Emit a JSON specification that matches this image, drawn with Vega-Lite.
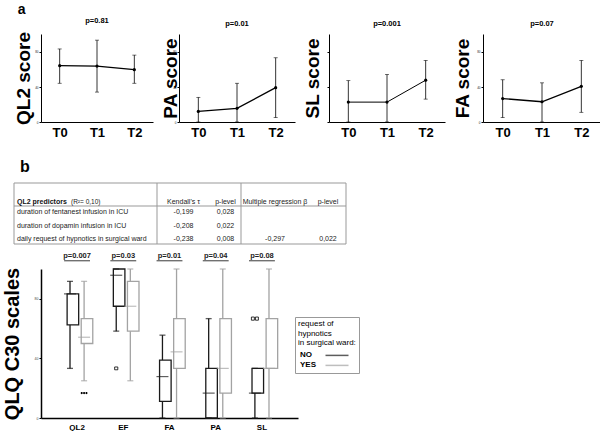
{
  "$schema": "https://vega.github.io/schema/vega-lite/v6.json",
  "padding": {"left": 2, "top": 3, "right": 2, "bottom": 0},
  "background": "white",
  "config": {
    "font": "Liberation Sans",
    "view": {"stroke": null},
    "axis": {"grid": false, "domainColor": "#000", "tickColor": "#000", "labelColor": "#222", "titleColor": "#000"},
    "title": {"color": "#000"}
  },
  "datasets": {
    "trend": [
      {"scale": "QL2", "time": "T0", "mean": 64, "lo": 44, "hi": 83},
      {"scale": "QL2", "time": "T1", "mean": 63.5, "lo": 34, "hi": 93},
      {"scale": "QL2", "time": "T2", "mean": 59.5, "lo": 44, "hi": 76},
      {"scale": "PA", "time": "T0", "mean": 12, "lo": 0, "hi": 28},
      {"scale": "PA", "time": "T1", "mean": 15.5, "lo": 0, "hi": 44},
      {"scale": "PA", "time": "T2", "mean": 39, "lo": 5, "hi": 73},
      {"scale": "SL", "time": "T0", "mean": 22.6, "lo": 0, "hi": 47},
      {"scale": "SL", "time": "T1", "mean": 22.6, "lo": 0, "hi": 54},
      {"scale": "SL", "time": "T2", "mean": 47.5, "lo": 26, "hi": 70},
      {"scale": "FA", "time": "T0", "mean": 26.6, "lo": 5, "hi": 48},
      {"scale": "FA", "time": "T1", "mean": 23, "lo": 0, "hi": 44.5},
      {"scale": "FA", "time": "T2", "mean": 40.5, "lo": 11, "hi": 70}
    ],
    "box": [
      {"scale": "QL2", "group": "NO", "lower": 33.3, "q1": 62.5, "median": 83.3, "q3": 83.3, "upper": 91.7},
      {"scale": "QL2", "group": "YES", "lower": 25, "q1": 50, "median": 54.2, "q3": 66.7, "upper": 91.7},
      {"scale": "EF", "group": "NO", "lower": 58.3, "q1": 75, "median": 95.8, "q3": 100, "upper": 100},
      {"scale": "EF", "group": "YES", "lower": 25, "q1": 58.3, "median": 75, "q3": 91.7, "upper": 100},
      {"scale": "FA", "group": "NO", "lower": 0, "q1": 11.1, "median": 27.8, "q3": 38.9, "upper": 55.6},
      {"scale": "FA", "group": "YES", "lower": 0, "q1": 33.3, "median": 44.4, "q3": 66.7, "upper": 100},
      {"scale": "PA", "group": "NO", "lower": 0, "q1": 0, "median": 16.7, "q3": 33.3, "upper": 66.7},
      {"scale": "PA", "group": "YES", "lower": 0, "q1": 16.7, "median": 33.3, "q3": 66.7, "upper": 100},
      {"scale": "SL", "group": "NO", "lower": 0, "q1": 16.7, "median": 16.7, "q3": 33.3, "upper": 33.3},
      {"scale": "SL", "group": "YES", "lower": 0, "q1": 33.3, "median": 33.3, "q3": 66.7, "upper": 100}
    ],
    "outliers": [
      {"scale": "QL2", "group": "YES", "value": 16.7, "n": 3, "kind": "extreme"},
      {"scale": "EF", "group": "NO", "value": 33.3, "n": 1, "kind": "outlier"},
      {"scale": "SL", "group": "NO", "value": 66.7, "n": 2, "kind": "outlier"}
    ],
    "pvals": [
      {"scale": "QL2", "p": "p=0.007"},
      {"scale": "EF", "p": "p=0.03"},
      {"scale": "FA", "p": "p=0.01"},
      {"scale": "PA", "p": "p=0.04"},
      {"scale": "SL", "p": "p=0.08"}
    ],
    "tlines": [
      {"orient": "v", "pos": -0.5},
      {"orient": "v", "pos": 0.5},
      {"orient": "v", "pos": 2.5},
      {"orient": "v", "pos": 4.5},
      {"orient": "h", "pos": -1},
      {"orient": "h", "pos": 0.5},
      {"orient": "h", "pos": 3.5}
    ],
    "cells": [
      {"row": 0, "col": 0, "part": "label", "text": "QL2 predictors"},
      {"row": 0, "col": 0, "part": "note", "text": "(R²= 0,10)"},
      {"row": 0, "col": 1, "text": "Kendall's τ"},
      {"row": 0, "col": 2, "text": "p-level"},
      {"row": 0, "col": 3, "text": "Multiple regression β"},
      {"row": 0, "col": 4, "text": "p-level"},
      {"row": 1, "col": 0, "text": "duration of fentanest infusion in ICU"},
      {"row": 1, "col": 1, "text": "-0,199"},
      {"row": 1, "col": 2, "text": "0,028"},
      {"row": 2, "col": 0, "text": "duration of dopamin infusion in ICU"},
      {"row": 2, "col": 1, "text": "-0,208"},
      {"row": 2, "col": 2, "text": "0,022"},
      {"row": 3, "col": 0, "text": "daily request of hypnotics in surgical ward"},
      {"row": 3, "col": 1, "text": "-0,238"},
      {"row": 3, "col": 2, "text": "0,008"},
      {"row": 3, "col": 3, "text": "-0,297"},
      {"row": 3, "col": 4, "text": "0,022"}
    ]
  },
  "columns": 1,
  "align": "none",
  "spacing": 19,
  "resolve": {"legend": {"color": "independent"}},
  "concat": [
    {
      "title": {"text": "a", "anchor": "start", "fontSize": 14, "fontWeight": "bold", "offset": 0, "dx": 3},
      "spacing": 8,
      "hconcat": [
        {
          "width": 112, "height": 88,
          "title": {"text": "p=0.81", "fontSize": 7.5, "fontWeight": "bold", "offset": 7},
          "data": {"name": "trend"},
          "transform": [{"filter": "datum.scale === 'QL2'"}],
          "encoding": {"x": {"field": "time", "type": "ordinal", "scale": {"type": "point", "padding": 0.5}, "axis": {"title": null, "labelAngle": 0, "labelFontSize": 13, "labelFontWeight": "bold", "labelColor": "#000", "ticks": false, "labelPadding": 4}}},
          "layer": [
            {"mark": {"type": "rule", "color": "#000", "strokeWidth": 0.8},
             "encoding": {"y": {"field": "lo", "type": "quantitative", "title": "QL2 score", "scale": {"domain": [0, 100], "nice": false}, "axis": {"values": [0,10,20,30,40,50,60,70,80,90,100], "labelFontSize": 3, "tickSize": 2, "labelPadding": 1, "titleFontSize": 19, "titleFontWeight": "bold", "titlePadding": 1}}, "y2": {"field": "hi"}}},
            {"mark": {"type": "tick", "color": "#000", "size": 4, "thickness": 0.8}, "encoding": {"y": {"field": "lo", "type": "quantitative", "title": "QL2 score"}}},
            {"mark": {"type": "tick", "color": "#000", "size": 4, "thickness": 0.8}, "encoding": {"y": {"field": "hi", "type": "quantitative", "title": "QL2 score"}}},
            {"mark": {"type": "line", "color": "#000", "strokeWidth": 1.3}, "encoding": {"y": {"field": "mean", "type": "quantitative", "title": "QL2 score"}}},
            {"mark": {"type": "point", "filled": true, "color": "#000", "size": 10, "opacity": 1}, "encoding": {"y": {"field": "mean", "type": "quantitative", "title": "QL2 score"}}}
          ]
        },
        {
          "width": 116, "height": 88,
          "title": {"text": "p=0.01", "fontSize": 7.5, "fontWeight": "bold", "offset": 7},
          "data": {"name": "trend"},
          "transform": [{"filter": "datum.scale === 'PA'"}],
          "encoding": {"x": {"field": "time", "type": "ordinal", "scale": {"type": "point", "padding": 0.5}, "axis": {"title": null, "labelAngle": 0, "labelFontSize": 13, "labelFontWeight": "bold", "labelColor": "#000", "ticks": false, "labelPadding": 4}}},
          "layer": [
            {"mark": {"type": "rule", "color": "#000", "strokeWidth": 0.8},
             "encoding": {"y": {"field": "lo", "type": "quantitative", "title": "PA score", "scale": {"domain": [0, 100], "nice": false}, "axis": {"values": [0,10,20,30,40,50,60,70,80,90,100], "labelFontSize": 3, "tickSize": 2, "labelPadding": 1, "titleFontSize": 19, "titleFontWeight": "bold", "titlePadding": -8}}, "y2": {"field": "hi"}}},
            {"mark": {"type": "tick", "color": "#000", "size": 4, "thickness": 0.8}, "encoding": {"y": {"field": "lo", "type": "quantitative", "title": "PA score"}}},
            {"mark": {"type": "tick", "color": "#000", "size": 4, "thickness": 0.8}, "encoding": {"y": {"field": "hi", "type": "quantitative", "title": "PA score"}}},
            {"mark": {"type": "line", "color": "#000", "strokeWidth": 1.3}, "encoding": {"y": {"field": "mean", "type": "quantitative", "title": "PA score"}}},
            {"mark": {"type": "point", "filled": true, "color": "#000", "size": 10, "opacity": 1}, "encoding": {"y": {"field": "mean", "type": "quantitative", "title": "PA score"}}}
          ]
        },
        {
          "width": 116, "height": 88,
          "title": {"text": "p=0.001", "fontSize": 7.5, "fontWeight": "bold", "offset": 7},
          "data": {"name": "trend"},
          "transform": [{"filter": "datum.scale === 'SL'"}],
          "encoding": {"x": {"field": "time", "type": "ordinal", "scale": {"type": "point", "padding": 0.5}, "axis": {"title": null, "labelAngle": 0, "labelFontSize": 13, "labelFontWeight": "bold", "labelColor": "#000", "ticks": false, "labelPadding": 4}}},
          "layer": [
            {"mark": {"type": "rule", "color": "#000", "strokeWidth": 0.8},
             "encoding": {"y": {"field": "lo", "type": "quantitative", "title": "SL score", "scale": {"domain": [0, 100], "nice": false}, "axis": {"values": [0,10,20,30,40,50,60,70,80,90,100], "labels": false, "tickSize": 2, "titleFontSize": 19, "titleFontWeight": "bold", "titlePadding": 4}}, "y2": {"field": "hi"}}},
            {"mark": {"type": "tick", "color": "#000", "size": 4, "thickness": 0.8}, "encoding": {"y": {"field": "lo", "type": "quantitative", "title": "SL score"}}},
            {"mark": {"type": "tick", "color": "#000", "size": 4, "thickness": 0.8}, "encoding": {"y": {"field": "hi", "type": "quantitative", "title": "SL score"}}},
            {"mark": {"type": "line", "color": "#000", "strokeWidth": 1.0}, "encoding": {"y": {"field": "mean", "type": "quantitative", "title": "SL score"}}},
            {"mark": {"type": "point", "filled": true, "color": "#000", "size": 10, "opacity": 1}, "encoding": {"y": {"field": "mean", "type": "quantitative", "title": "SL score"}}}
          ]
        },
        {
          "width": 118, "height": 88,
          "title": {"text": "p=0.07", "fontSize": 7.5, "fontWeight": "bold", "offset": 7},
          "data": {"name": "trend"},
          "transform": [{"filter": "datum.scale === 'FA'"}],
          "encoding": {"x": {"field": "time", "type": "ordinal", "scale": {"type": "point", "padding": 0.5}, "axis": {"title": null, "labelAngle": 0, "labelFontSize": 13, "labelFontWeight": "bold", "labelColor": "#000", "ticks": false, "labelPadding": 4}}},
          "layer": [
            {"mark": {"type": "rule", "color": "#000", "strokeWidth": 0.8},
             "encoding": {"y": {"field": "lo", "type": "quantitative", "title": "FA score", "scale": {"domain": [0, 100], "nice": false}, "axis": {"values": [0,10,20,30,40,50,60,70,80,90,100], "labelFontSize": 3, "tickSize": 2, "labelPadding": 1, "titleFontSize": 19, "titleFontWeight": "bold", "titlePadding": 4}}, "y2": {"field": "hi"}}},
            {"mark": {"type": "tick", "color": "#000", "size": 4, "thickness": 0.8}, "encoding": {"y": {"field": "lo", "type": "quantitative", "title": "FA score"}}},
            {"mark": {"type": "tick", "color": "#000", "size": 4, "thickness": 0.8}, "encoding": {"y": {"field": "hi", "type": "quantitative", "title": "FA score"}}},
            {"mark": {"type": "line", "color": "#000", "strokeWidth": 1.3}, "encoding": {"y": {"field": "mean", "type": "quantitative", "title": "FA score"}}},
            {"mark": {"type": "point", "filled": true, "color": "#000", "size": 10, "opacity": 1}, "encoding": {"y": {"field": "mean", "type": "quantitative", "title": "FA score"}}}
          ]
        }
      ]
    },
    {
      "width": 257, "height": 149,
      "title": {"text": "b", "anchor": "start", "fontSize": 16, "fontWeight": "bold", "offset": 8, "dx": 18},
      "resolve": {"scale": {"x": "independent", "y": "independent"}},
      "layer": [
        {
          "encoding": {
            "x": {"field": "scale", "type": "nominal", "sort": ["QL2", "EF", "FA", "PA", "SL"], "scale": {"domain": ["QL2", "EF", "FA", "PA", "SL"], "paddingInner": 0, "paddingOuter": 0.28}, "axis": {"title": null, "labelAngle": 0, "labelFontSize": 8, "labelFontWeight": "bold", "labelColor": "#000", "ticks": false, "labelPadding": 5, "domainWidth": 1.5}}
          },
          "layer": [
            {
              "data": {"name": "box"},
              "encoding": {
                "xOffset": {"field": "group", "type": "nominal", "scale": {"domain": ["NO", "YES"], "paddingInner": 0, "paddingOuter": 0.64}},
                "color": {"field": "group", "type": "nominal", "scale": {"domain": ["NO", "YES"], "range": ["#1a1a1a", "#a3a3a3"]},
                  "legend": {"orient": "none", "legendX": 254, "legendY": 48, "title": ["request of", "hypnotics", "in surgical ward:"], "titleFontSize": 8, "titleFontWeight": "normal", "titleLineHeight": 9.7, "titleColor": "#000", "titlePadding": 2, "labelFontSize": 8, "labelFontWeight": "bold", "labelColor": "#000", "symbolType": "M-2.3,0H2.3", "symbolSize": 100, "symbolStrokeWidth": 1.5, "strokeColor": "#999", "padding": 3, "rowPadding": 0, "symbolOffset": 33, "labelOffset": -43}}
              },
              "layer": [
                {"mark": {"type": "rule", "strokeWidth": 1.3},
                 "encoding": {"y": {"field": "lower", "type": "quantitative", "title": "QLQ C30 scales", "scale": {"domain": [0, 100], "nice": false},
                   "axis": {"values": [0,10,20,30,40,50,60,70,80,90,100], "labelExpr": "datum.value % 20 === 0 ? datum.label : ''", "labelFontSize": 3.5, "labelColor": "#444", "tickSize": 2, "labelPadding": 1, "titleFontSize": 20, "titleFontWeight": "bold", "titlePadding": 12, "domainWidth": 1.5}},
                   "y2": {"field": "q1"}}},
                {"mark": {"type": "rule", "strokeWidth": 1.3},
                 "encoding": {"y": {"field": "q3", "type": "quantitative", "title": "QLQ C30 scales"}, "y2": {"field": "upper"}}},
                {"mark": {"type": "tick", "size": 6, "thickness": 1.3},
                 "encoding": {"y": {"field": "lower", "type": "quantitative", "title": "QLQ C30 scales"}}},
                {"mark": {"type": "tick", "size": 6, "thickness": 1.3},
                 "encoding": {"y": {"field": "upper", "type": "quantitative", "title": "QLQ C30 scales"}}},
                {"mark": {"type": "bar", "filled": false, "strokeWidth": 1.3, "width": {"band": 0.82}},
                 "encoding": {"y": {"field": "q1", "type": "quantitative", "title": "QLQ C30 scales"}, "y2": {"field": "q3"}}},
                {"mark": {"type": "tick", "size": 12, "thickness": 1.2},
                 "encoding": {"y": {"field": "median", "type": "quantitative", "title": "QLQ C30 scales"}}}
              ]
            },
            {
              "data": {"name": "outliers"},
              "transform": [{"filter": "datum.kind === 'extreme'"}],
              "mark": {"type": "point", "filled": true, "color": "#000", "size": 49, "opacity": 1},
              "encoding": {
                "xOffset": {"field": "group", "type": "nominal"},
                "y": {"field": "value", "type": "quantitative", "title": "QLQ C30 scales"},
                "shape": {"field": "n", "type": "ordinal", "legend": null, "scale": {"domain": [1, 2, 3], "range": ["M-0.45,-0.4h0.9v0.8h-0.9z", "M-1,-0.45h0.85v0.9h-0.85zM0.15,-0.45h0.85v0.9h-0.85z", "M-0.98,0a0.3,0.3 0 1,0 0.6,0a0.3,0.3 0 1,0 -0.6,0M-0.3,0a0.3,0.3 0 1,0 0.6,0a0.3,0.3 0 1,0 -0.6,0M0.38,0a0.3,0.3 0 1,0 0.6,0a0.3,0.3 0 1,0 -0.6,0"]}}
              }
            },
            {
              "data": {"name": "outliers"},
              "transform": [{"filter": "datum.kind === 'outlier'"}],
              "mark": {"type": "point", "filled": false, "color": "#000", "strokeWidth": 0.8, "size": 49, "opacity": 1},
              "encoding": {
                "xOffset": {"field": "group", "type": "nominal"},
                "y": {"field": "value", "type": "quantitative", "title": "QLQ C30 scales"},
                "shape": {"field": "n", "type": "ordinal", "legend": null}
              }
            },
            {
              "data": {"name": "pvals"},
              "mark": {"type": "text", "fontSize": 7.5, "fontWeight": "bold", "color": "#222"},
              "encoding": {"y": {"datum": 108.5}, "text": {"field": "p"}}
            },
            {
              "data": {"name": "pvals"},
              "mark": {"type": "bar", "color": "#222", "width": {"band": 0.56}},
              "encoding": {"y": {"datum": 105.2}, "y2": {"datum": 105.8}}
            }
          ]
        },
        {
          "layer": [
            {"data": {"name": "tlines"}, "transform": [{"filter": "datum.orient === 'v'"}],
             "mark": {"type": "rule", "color": "#999", "strokeWidth": 1},
             "encoding": {
               "x": {"field": "pos", "type": "quantitative", "axis": null, "scale": {"domain": [-0.5, 0, 0.5, 1, 2, 2.5, 3, 4, 4.5], "range": [-27, -24, 116, 142.5, 184.5, 200, 234, 287, 305], "nice": false, "zero": false}},
               "y": {"datum": -1, "type": "quantitative", "axis": null, "scale": {"domain": [-1, 0, 0.5, 1, 3, 3.5], "range": [-86, -67, -63, -56.7, -30.3, -25], "nice": false, "zero": false}},
               "y2": {"datum": 3.5}
             }},
            {"data": {"name": "tlines"}, "transform": [{"filter": "datum.orient === 'h'"}],
             "mark": {"type": "rule", "color": "#999", "strokeWidth": 1},
             "encoding": {
               "y": {"field": "pos", "type": "quantitative", "axis": null},
               "x": {"datum": -0.5, "type": "quantitative", "axis": null},
               "x2": {"datum": 4.5}
             }},
            {"data": {"name": "cells"}, "transform": [{"filter": "datum.col === 0 && datum.row > 0"}],
             "mark": {"type": "text", "align": "left", "baseline": "middle", "fontSize": 7, "color": "#222"},
             "encoding": {"x": {"field": "col", "type": "quantitative", "axis": null}, "y": {"field": "row", "type": "quantitative", "axis": null}, "text": {"field": "text"}}},
            {"data": {"name": "cells"}, "transform": [{"filter": "datum.col > 0"}],
             "mark": {"type": "text", "align": "center", "baseline": "middle", "fontSize": 7, "color": "#222"},
             "encoding": {"x": {"field": "col", "type": "quantitative", "axis": null}, "y": {"field": "row", "type": "quantitative", "axis": null}, "text": {"field": "text"}}},
            {"data": {"name": "cells"}, "transform": [{"filter": "datum.part === 'label'"}],
             "mark": {"type": "text", "align": "left", "baseline": "middle", "fontSize": 7, "fontWeight": "bold", "color": "#111"},
             "encoding": {"x": {"field": "col", "type": "quantitative", "axis": null}, "y": {"field": "row", "type": "quantitative", "axis": null}, "text": {"field": "text"}}},
            {"data": {"name": "cells"}, "transform": [{"filter": "datum.part === 'note'"}],
             "mark": {"type": "text", "align": "left", "baseline": "middle", "fontSize": 6.5, "color": "#222", "dx": 54},
             "encoding": {"x": {"field": "col", "type": "quantitative", "axis": null}, "y": {"field": "row", "type": "quantitative", "axis": null}, "text": {"field": "text"}}}
          ]
        }
      ]
    }
  ]
}
